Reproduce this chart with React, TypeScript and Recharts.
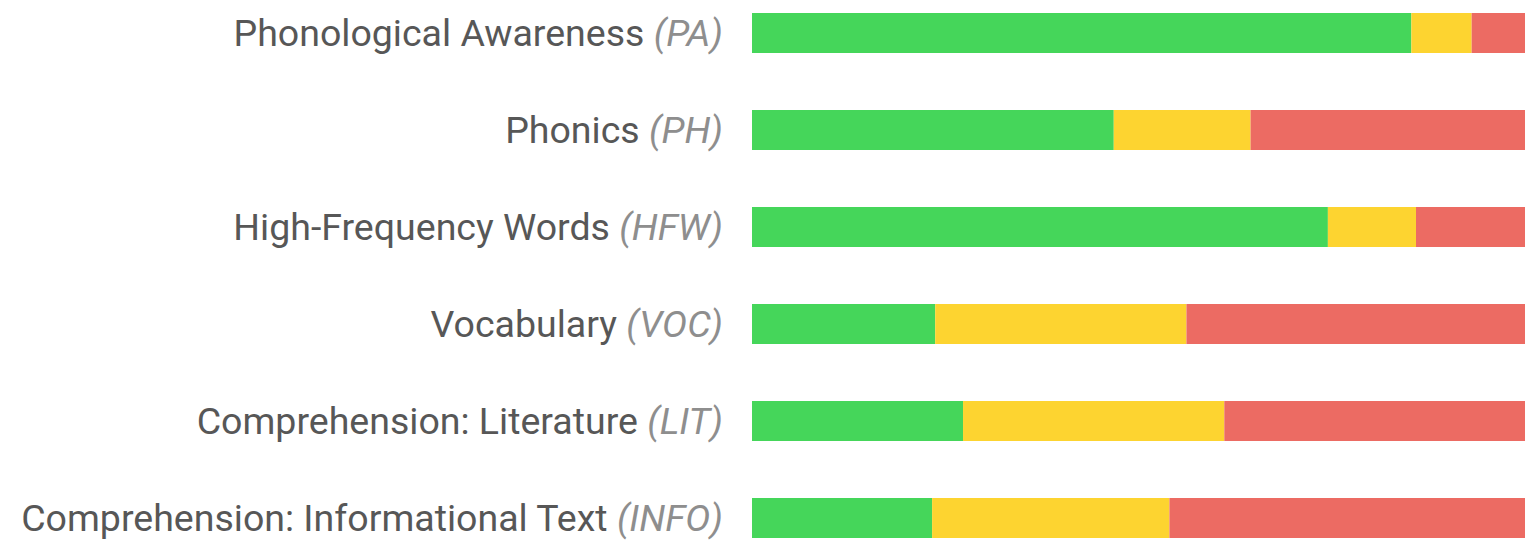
import { BarChart, Bar, XAxis, YAxis } from 'recharts';

const skills = [
    'Phonological Awareness',
    'Phonics',
    'High-Frequency Words',
    'Vocabulary',
    'Comprehension: Literature',
    'Comprehension: Informational Text',
];
const codes = ['PA', 'PH', 'HFW', 'VOC', 'LIT', 'INFO'];
const proficient = [85.3, 46.8, 74.5, 23.7, 27.3, 23.3];
const developing = [7.8, 17.7, 11.4, 32.5, 33.8, 30.7];
const beginning = [6.9, 35.5, 14.1, 43.8, 38.9, 46.0];

const data = skills.map((name, i) => ({
    name,
    code: codes[i],
    proficient: proficient[i],
    developing: developing[i],
    beginning: beginning[i],
}));

const SkillTick = (props: any) => {
    const { x, y, payload } = props;
    const row = data[payload.index] ?? data.find((d) => d.name === payload.value);
    return (
        <text x={x - 21} y={y} dy="0.35em" textAnchor="end" fontSize={37.5} fontFamily="Roboto, sans-serif">
            <tspan fill="#575757">{payload.value} </tspan>
            <tspan fill="#8e8e8e" fontStyle="italic">({row?.code})</tspan>
        </text>
    );
};

export default function App() {
    return (
        <div style={{ position: 'absolute', left: 0, top: 0, width: 1537, height: 548, overflow: 'hidden', background: '#fff' }}>
            <div style={{ marginTop: -16 }}>
                <BarChart
                    width={1537}
                    height={582}
                    data={data}
                    layout="vertical"
                    margin={{ top: 0, right: 12, bottom: 0, left: 0 }}
                >
                    <XAxis type="number" domain={[0, 100]} hide />
                    <YAxis
                        type="category"
                        dataKey="name"
                        width={752}
                        axisLine={false}
                        tickLine={false}
                        tick={<SkillTick />}
                        interval={0}
                    />
                    <Bar dataKey="proficient" stackId="a" fill="#45d65a" barSize={40} isAnimationActive={false} />
                    <Bar dataKey="developing" stackId="a" fill="#fdd430" barSize={40} isAnimationActive={false} />
                    <Bar dataKey="beginning" stackId="a" fill="#ec6b63" barSize={40} isAnimationActive={false} />
                </BarChart>
            </div>
        </div>
    );
}
